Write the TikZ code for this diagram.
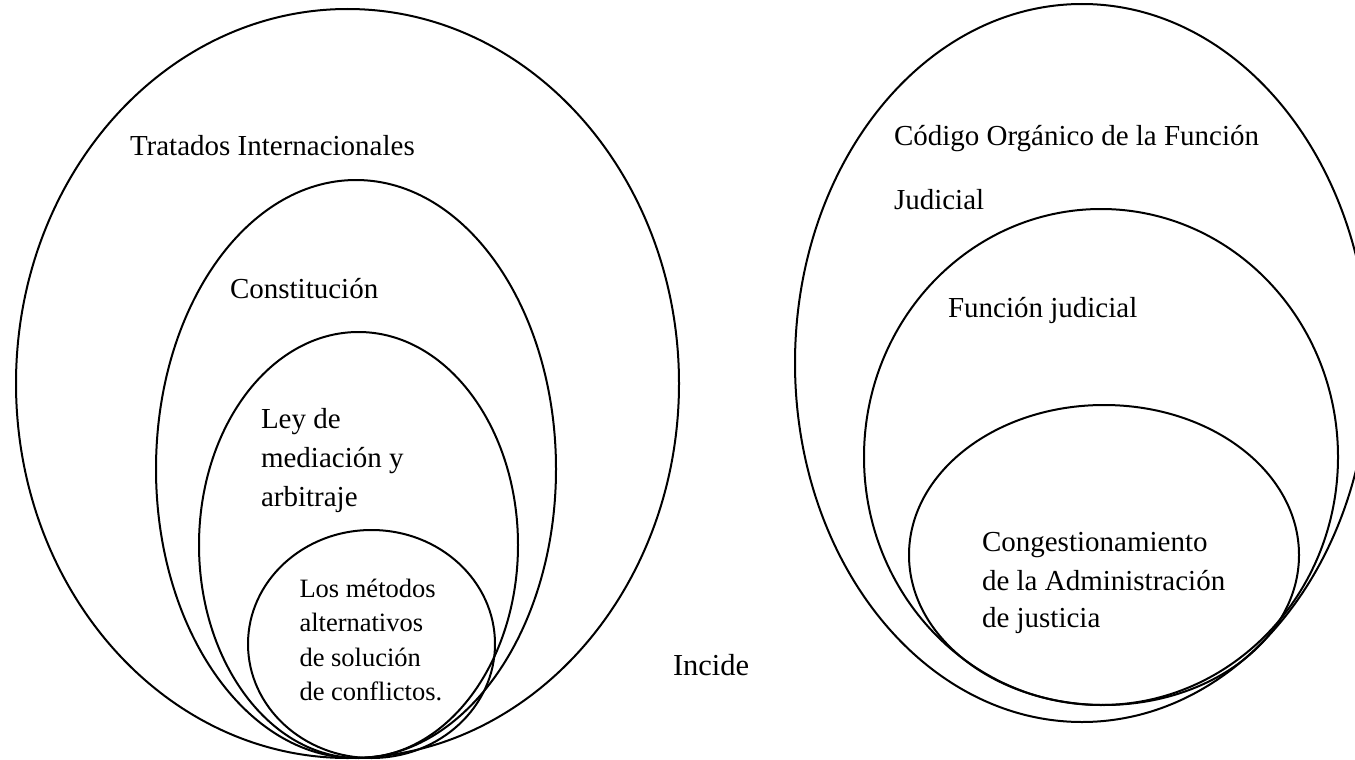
\documentclass[tikz,border=0pt]{standalone}
\usepackage{fontspec}
\setmainfont{Liberation Serif}
\begin{document}
\begin{tikzpicture}[x=1pt,y=-1pt,
  ring/.style={draw=black,line width=2pt},
  lbl/.style={anchor=base west,inner sep=0pt,outer sep=0pt,font=\fontsize{29}{35}\selectfont},
  slbl/.style={anchor=base west,inner sep=0pt,outer sep=0pt,font=\fontsize{26.5}{32}\selectfont},
  ilbl/.style={anchor=base west,inner sep=0pt,outer sep=0pt,font=\fontsize{30.5}{36}\selectfont}]
\clip (0,0) rectangle (1355,760);
\fill[white] (0,0) rectangle (1355,760);
% left group
\draw[ring] (347.5,383.5) ellipse [x radius=331.5pt, y radius=374.5pt];
\draw[ring] (356,469) ellipse [x radius=200pt, y radius=289pt];
\draw[ring] (358.5,545) ellipse [x radius=159.5pt, y radius=213pt];
\draw[ring] (371.5,644) ellipse [x radius=123.5pt, y radius=114pt];
% right group
\draw[ring] (1082,363) ellipse [x radius=287pt, y radius=359pt];
\draw[ring] (1101,457) ellipse [x radius=237pt, y radius=248pt];
\draw[ring] (1104,555) ellipse [x radius=195pt, y radius=150pt];
% labels
\node[lbl] (trat) at (130,155) {Tratados Internacionales};
\node[lbl] (cons) at (230,298) {Constitución};
\node[lbl] (ley1) at (261,428) {Ley de};
\node[lbl] (ley2) at (261,467) {mediación y};
\node[lbl] (ley3) at (261,506) {arbitraje};
\node[slbl] (met1) at (299.5,597) {Los métodos};
\node[slbl] (met2) at (299.5,631) {alternativos};
\node[slbl] (met3) at (299.5,666) {de solución};
\node[slbl] (met4) at (299.5,700) {de conflictos.};
\node[ilbl] (inc) at (673,675) {Incide};
\node[lbl] (cod1) at (894,145) {Código Orgánico de la Función};
\node[lbl] (cod2) at (894,209) {Judicial};
\node[lbl] (fun) at (948,317) {Función judicial};
\node[lbl] (con1) at (982,551) {Congestionamiento};
\node[lbl] (con2) at (982,590) {de la Administración};
\node[lbl] (con3) at (982,627) {de justicia};
\end{tikzpicture}
\end{document}
